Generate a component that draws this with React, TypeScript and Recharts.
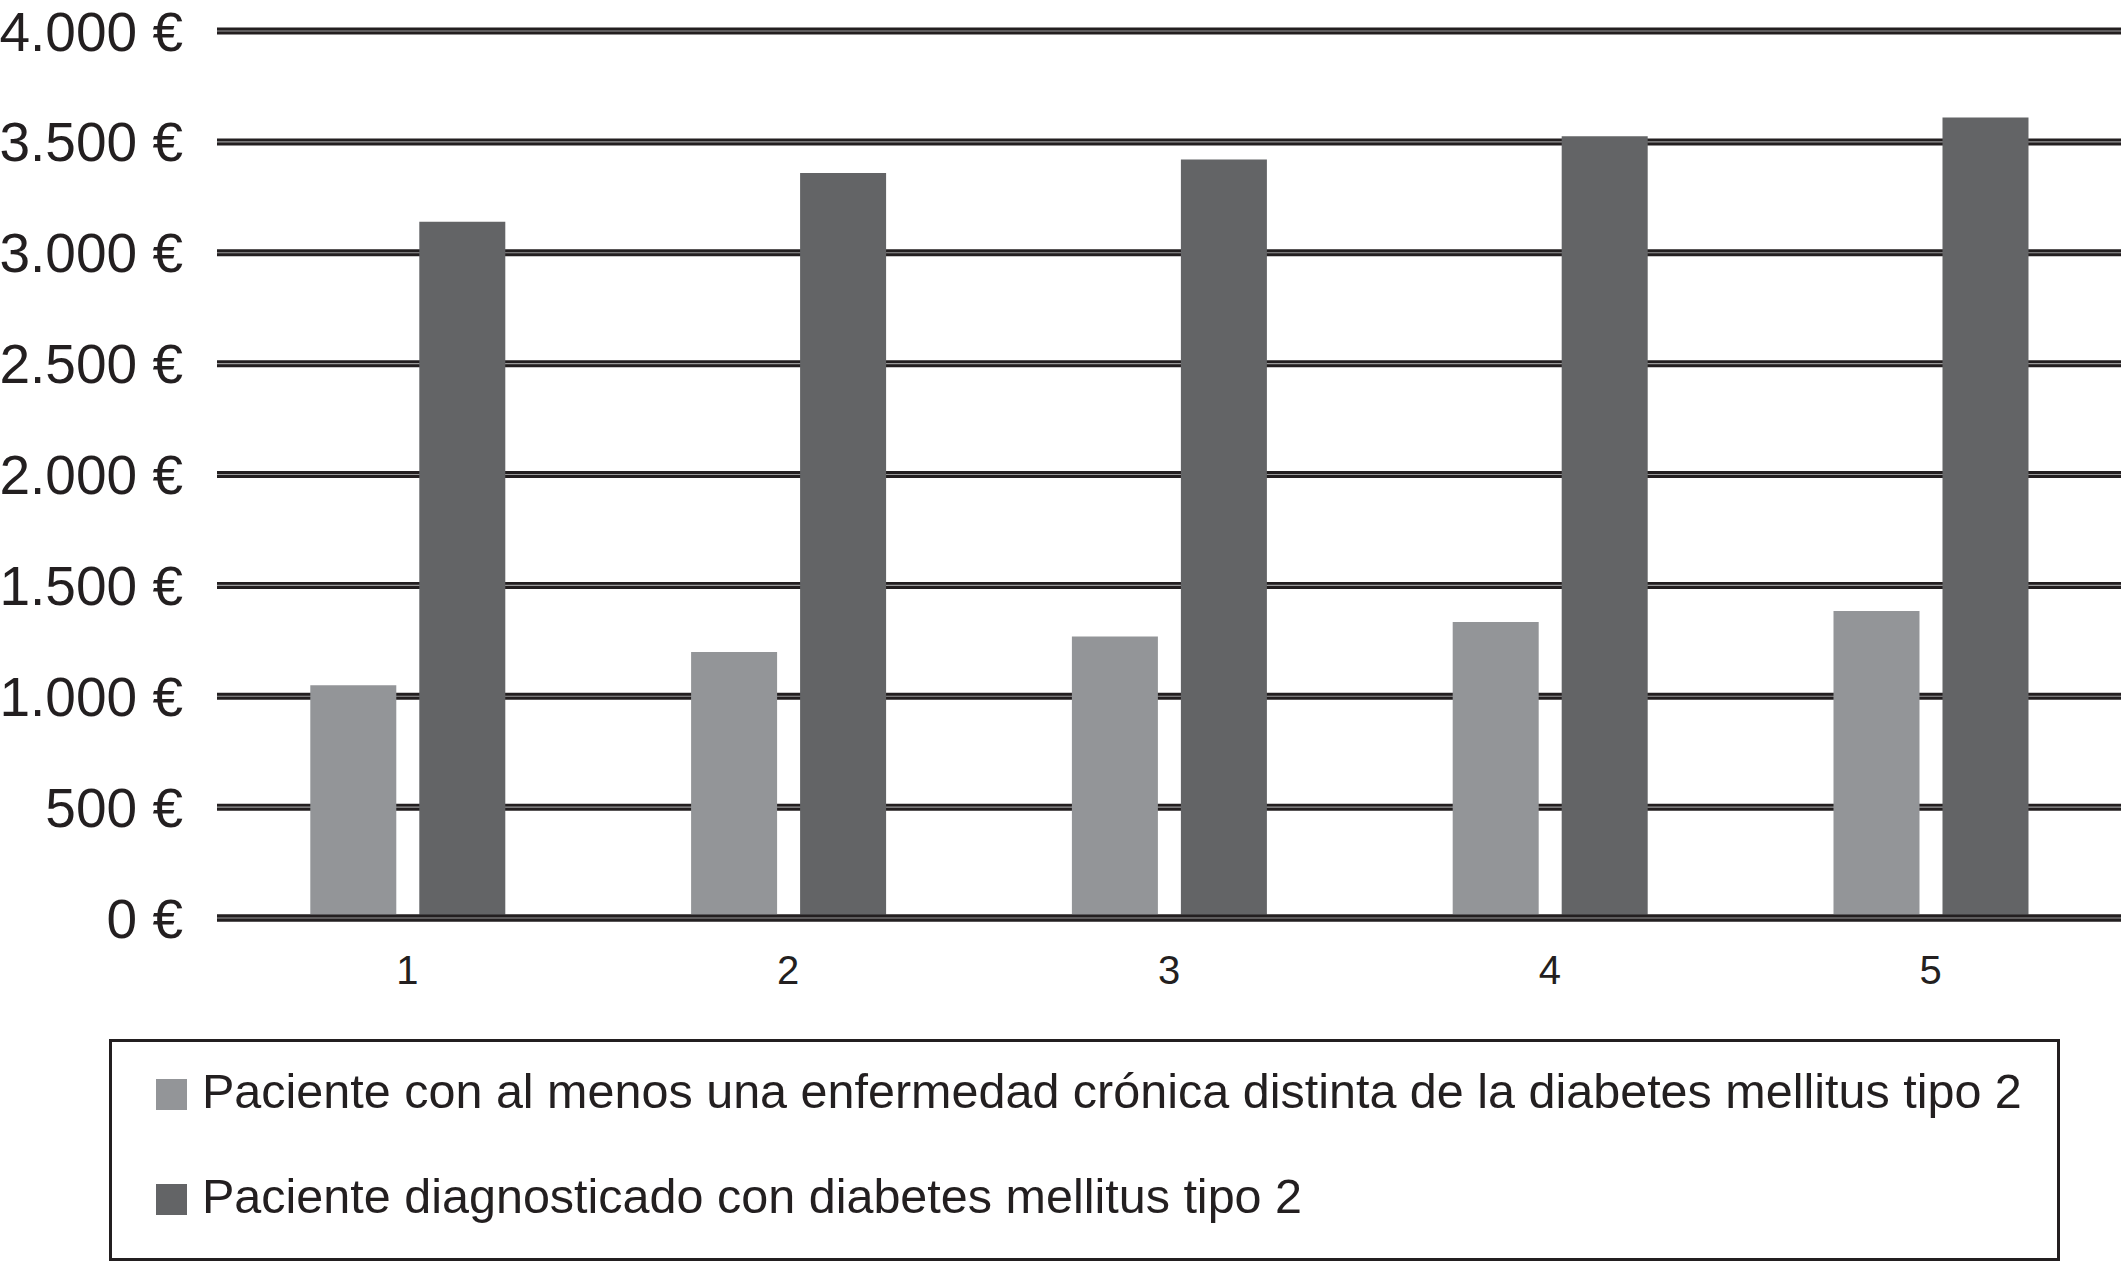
import React from 'react';
import {
  BarChart,
  Bar,
  XAxis,
  YAxis,
  CartesianGrid,
  ReferenceLine,
} from 'recharts';

// ── Data ──────────────────────────────────────────────────────────────────────

const categories = ['1', '2', '3', '4', '5'];
const cronicaValues = [1050, 1200, 1270, 1335, 1385];
const diabetesValues = [3140, 3360, 3420, 3525, 3610];
const yTicks = [0, 500, 1000, 1500, 2000, 2500, 3000, 3500, 4000];

const seriesNames = [
  'Paciente con al menos una enfermedad crónica distinta de la diabetes mellitus tipo 2',
  'Paciente diagnosticado con diabetes mellitus tipo 2',
];
const seriesColors = ['#939598', '#636466'];

const data = categories.map((c, i) => ({
  name: c,
  cronica: cronicaValues[i],
  diabetes: diabetesValues[i],
}));

// ── Styles ────────────────────────────────────────────────────────────────────

const INK = '#231f20';
const FONT = '"Liberation Sans", Arial, Helvetica, sans-serif';

const euro = (v: number) =>
  `${v.toString().replace(/\B(?=(\d{3})+(?!\d))/g, '.')} €`;

function Legend() {
  return (
    <div
      style={{
        position: 'absolute',
        left: 109,
        top: 1039,
        width: 1951,
        height: 222,
        boxSizing: 'border-box',
        border: `3px solid ${INK}`,
        fontFamily: FONT,
        fontSize: 48.5,
        color: INK,
      }}
    >
      {seriesNames.map((name, i) => (
        <div
          key={name}
          style={{
            position: 'absolute',
            left: 44,
            top: i === 0 ? 21 : 126,
            display: 'flex',
            alignItems: 'center',
            whiteSpace: 'nowrap',
            lineHeight: '56px',
          }}
        >
          <span
            style={{
              display: 'inline-block',
              width: 31,
              height: 31,
              background: seriesColors[i],
              marginRight: 15,
              marginTop: 6,
            }}
          />
          {name}
        </div>
      ))}
    </div>
  );
}

export default function App() {
  return (
    <div
      style={{
        position: 'absolute',
        left: 0,
        top: 0,
        width: 2121,
        height: 1264,
        overflow: 'hidden',
        background: '#ffffff',
      }}
    >
      <BarChart
        width={2121}
        height={1000}
        data={data}
        margin={{ top: 31, right: 0, bottom: 2, left: 0 }}
        barCategoryGap="24.5%"
        barGap={23}
      >
        {/* double rule: thick dark line with a thin grey core */}
        <CartesianGrid vertical={false} stroke={INK} strokeWidth={7} />
        <CartesianGrid vertical={false} stroke="#9a9a9a" strokeWidth={1.2} />
        <XAxis
          dataKey="name"
          height={80}
          axisLine={false}
          tickLine={false}
          tickSize={0}
          tickMargin={38}
          tick={{ fill: INK, fontSize: 40, fontFamily: FONT }}
        />
        <YAxis
          width={217}
          domain={[0, 4000]}
          ticks={yTicks}
          interval={0}
          axisLine={false}
          tickLine={false}
          tickSize={0}
          tickMargin={34}
          tickFormatter={euro}
          tick={{ fill: INK, fontSize: 55, fontFamily: FONT }}
        />
        <Bar
          dataKey="cronica"
          name={seriesNames[0]}
          fill={seriesColors[0]}
          isAnimationActive={false}
        />
        <Bar
          dataKey="diabetes"
          name={seriesNames[1]}
          fill={seriesColors[1]}
          isAnimationActive={false}
        />
        <ReferenceLine y={0} stroke={INK} strokeWidth={7} />
        <ReferenceLine y={0} stroke="#9a9a9a" strokeWidth={1.2} />
      </BarChart>
      <Legend />
    </div>
  );
}
